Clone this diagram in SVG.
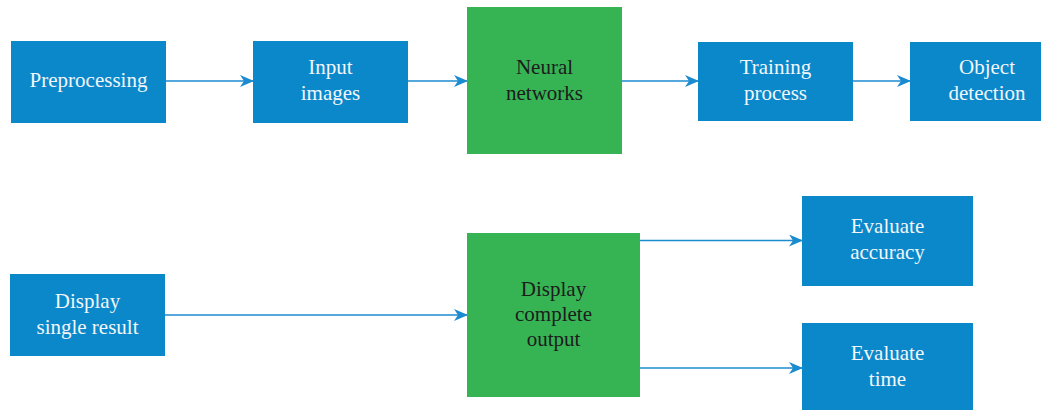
<svg xmlns="http://www.w3.org/2000/svg" width="1053" height="410" viewBox="0 0 1053 410">
  <style>
    .blue { fill: #0a88ca; }
    .green { fill: #36b454; }
    .lbl { font-family: "Liberation Serif", "Times New Roman", serif; font-size: 21px; text-anchor: middle; }
    .lt { fill: #f2f6fa; }
    .dk { fill: #1c1c1c; }
    .edge { stroke: #1b8bd0; stroke-width: 1.6; fill: none; marker-end: url(#arrow); }
  </style>
  <defs>
    <marker id="arrow" viewBox="0 0 14 12" refX="13" refY="6" markerWidth="14" markerHeight="12" markerUnits="userSpaceOnUse" orient="auto">
      <path d="M0,0 L14,6 L0,12 L4,6 Z" fill="#1b8bd0"/>
    </marker>
  </defs>

  <rect width="1053" height="410" fill="#ffffff"/>

  <g id="connectors">
    <line class="edge" x1="166" y1="81" x2="253" y2="81"/>
    <line class="edge" x1="408" y1="81" x2="467" y2="81"/>
    <line class="edge" x1="622" y1="81" x2="698" y2="81"/>
    <line class="edge" x1="853" y1="81" x2="910" y2="81"/>
    <line class="edge" x1="165" y1="315" x2="467" y2="315"/>
    <line class="edge" x1="640" y1="240.5" x2="802" y2="240.5"/>
    <line class="edge" x1="640" y1="368" x2="802" y2="368"/>
  </g>

  <g id="preprocessing">
    <rect class="blue" x="11" y="41" width="155" height="82"/>
    <text class="lbl lt" x="88.5" y="87">Preprocessing</text>
  </g>

  <g id="input-images">
    <rect class="blue" x="253" y="41" width="155" height="82"/>
    <text class="lbl lt" x="330.5" y="74">Input</text>
    <text class="lbl lt" x="330.5" y="99.5">images</text>
  </g>

  <g id="neural-networks">
    <rect class="green" x="467" y="7" width="155" height="147"/>
    <text class="lbl dk" x="544.5" y="74">Neural</text>
    <text class="lbl dk" x="544.5" y="99.5">networks</text>
  </g>

  <g id="training-process">
    <rect class="blue" x="698" y="42" width="155" height="79"/>
    <text class="lbl lt" x="775.5" y="74">Training</text>
    <text class="lbl lt" x="775.5" y="99.5">process</text>
  </g>

  <g id="object-detection">
    <rect class="blue" x="910" y="42" width="131" height="79"/>
    <text class="lbl lt" x="987" y="74">Object</text>
    <text class="lbl lt" x="987" y="99.5">detection</text>
  </g>

  <g id="display-single-result">
    <rect class="blue" x="10" y="274" width="155" height="82"/>
    <text class="lbl lt" x="87.5" y="308">Display</text>
    <text class="lbl lt" x="87.5" y="333.5">single result</text>
  </g>

  <g id="display-complete-output">
    <rect class="green" x="467" y="233" width="173" height="164"/>
    <text class="lbl dk" x="553.5" y="296">Display</text>
    <text class="lbl dk" x="553.5" y="321">complete</text>
    <text class="lbl dk" x="553.5" y="346">output</text>
  </g>

  <g id="evaluate-accuracy">
    <rect class="blue" x="802" y="196" width="171" height="90"/>
    <text class="lbl lt" x="887.5" y="233">Evaluate</text>
    <text class="lbl lt" x="887.5" y="258.5">accuracy</text>
  </g>

  <g id="evaluate-time">
    <rect class="blue" x="802" y="323" width="171" height="87"/>
    <text class="lbl lt" x="887.5" y="360">Evaluate</text>
    <text class="lbl lt" x="887.5" y="385.5">time</text>
  </g>
</svg>
